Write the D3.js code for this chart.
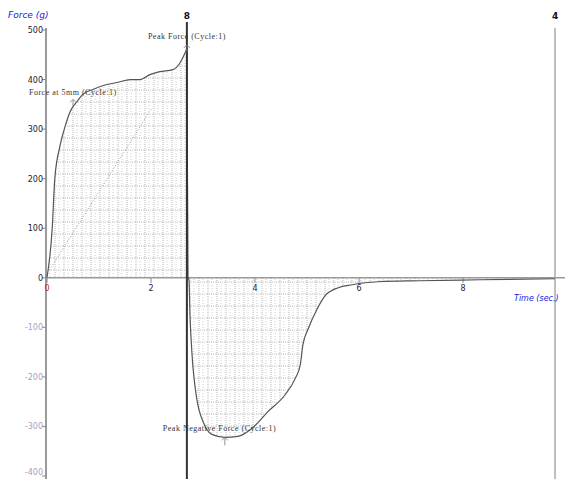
<!DOCTYPE html>
<html><head><meta charset="utf-8">
<script src="https://cdn.jsdelivr.net/npm/d3@7"></script>
<style>html,body{margin:0;padding:0;background:#fff;}svg{display:block;}</style>
</head><body>
<svg id="c" width="565" height="479"></svg>
<script>
// Data (time in sec, force in g)
const xTicks = [0, 2, 4, 6, 8];
const xTickLabels = ["0", "2", "4", "6", "8"];
const yTicks = [500, 400, 300, 200, 100, 0, -100, -200, -300, -400];
const yTickLabels = ["500", "400", "300", "200", "100", "0", "-100", "-200", "-300", "-400"];
const posTime = [0, 0.10, 0.15, 0.25, 0.35, 0.44, 0.58, 0.69, 0.88, 1.15, 1.35, 1.60, 1.79, 1.98, 2.17, 2.42, 2.56, 2.69];
const posForce = [0, 100, 200, 266, 306, 334, 356, 370, 380, 390, 394, 400, 400, 410, 416, 420, 434, 462];
const negTime = [2.71, 2.73, 2.75, 2.79, 2.88, 3.00, 3.17, 3.42, 3.67, 3.94, 4.25, 4.58, 4.77, 4.87, 4.92, 5.02, 5.19, 5.35, 5.60, 5.87, 6.12, 6.37, 7.17, 8.33, 9.77];
const negForce = [0, -4, -76, -156, -244, -290, -316, -322, -320, -304, -270, -236, -204, -176, -136, -104, -64, -36, -20, -14, -10, -8, -6, -4, -2];
const markers = [{t: 2.69, label: "8"}, {t: 9.77, label: "4"}];
const annotations = [
  {t: 0.5, f: 360, text: "Force at 5mm (Cycle:1)", dx: -44, dy: -10},
  {t: 2.69, f: 470, text: "Peak Force (Cycle:1)", dx: -39, dy: -12},
  {t: 3.42, f: 322, neg: true, text: "Peak Negative Force (Cycle:1)", dx: -62, dy: -12}
];
const gradT = [0.05, 2.0];
const gradF = [16, 340];

const svg = d3.select("#c");
const x = d3.scaleLinear().domain([0, 10]).range([47, 567]);
const y = d3.scaleLinear().domain([-400, 500]).range([476, 30]);

// hatch pattern
const defs = svg.append("defs");
const pat = defs.append("pattern").attr("id", "hatch").attr("patternUnits", "userSpaceOnUse")
  .attr("width", 9).attr("height", 12);
pat.append("line").attr("x1", 1).attr("x2", 1).attr("y1", 0).attr("y2", 12)
  .attr("stroke", "#b8b8b8").attr("stroke-width", 1).attr("stroke-dasharray", "1,1");
pat.append("line").attr("x1", 5).attr("x2", 5).attr("y1", 0).attr("y2", 12)
  .attr("stroke", "#cfcfcf").attr("stroke-width", 1).attr("stroke-dasharray", "1,2");
pat.append("line").attr("x1", 0).attr("x2", 9).attr("y1", 6).attr("y2", 6)
  .attr("stroke", "#c4c4c4").attr("stroke-width", 1).attr("stroke-dasharray", "1,1");

const pos = posTime.map((t, i) => [t, posForce[i]]);
const neg = negTime.map((t, i) => [t, negForce[i]]);

const area = d3.area().x(d => x(d[0])).y0(y(0)).y1(d => y(d[1])).curve(d3.curveMonotoneX);
svg.append("path").datum(pos).attr("d", area).attr("fill", "url(#hatch)");
svg.append("path").datum(neg).attr("d", area).attr("fill", "url(#hatch)");

// gradient dotted line
svg.append("line").attr("x1", x(gradT[0])).attr("y1", y(gradF[0])).attr("x2", x(gradT[1])).attr("y2", y(gradF[1]))
  .attr("stroke", "#999").attr("stroke-width", 1).attr("stroke-dasharray", "1,2");

// axes lines
svg.append("line").attr("x1", 46).attr("x2", 46).attr("y1", y(500) - 2).attr("y2", 479)
  .attr("stroke", "#9a9a9a").attr("stroke-width", 2);
svg.append("line").attr("x1", 46).attr("x2", 565).attr("y1", y(0)).attr("y2", y(0))
  .attr("stroke", "#9a9a9a").attr("stroke-width", 1.5);

// y ticks
const yg = svg.append("g");
yTicks.forEach((v, i) => {
  yg.append("line").attr("x1", 42).attr("x2", 46).attr("y1", y(v)).attr("y2", y(v)).attr("stroke", "#888");
  yg.append("text").attr("x", 43).attr("y", Math.min(y(v) + 3, 475)).attr("text-anchor", "end")
    .attr("font-family", "DejaVu Sans").attr("font-size", 8)
    .attr("fill", v >= 0 ? "#223" : "#a8a0c0").text(yTickLabels[i]);
});
// x ticks
const xg = svg.append("g");
xTicks.forEach((v, i) => {
  xg.append("line").attr("x1", x(v)).attr("x2", x(v)).attr("y1", y(0)).attr("y2", y(0) + 5).attr("stroke", "#888");
  xg.append("text").attr("x", x(v)).attr("y", y(0) + 13).attr("text-anchor", "middle")
    .attr("font-family", "DejaVu Sans").attr("font-size", 8)
    .attr("fill", i === 0 ? "#d0204a" : "#223").text(xTickLabels[i]);
});

// markers
markers.forEach((m, i) => {
  svg.append("line").attr("x1", x(m.t)).attr("x2", x(m.t)).attr("y1", i === 0 ? 22 : 28).attr("y2", 479)
    .attr("stroke", i === 0 ? "#333" : "#aaa").attr("stroke-width", i === 0 ? 2 : 1.5);
  svg.append("text").attr("x", x(m.t)).attr("y", 19).attr("text-anchor", "middle")
    .attr("font-family", "DejaVu Sans").attr("font-weight", "bold").attr("font-size", 9)
    .attr("fill", "#111").text(m.label);
});

// curves
const line = d3.line().x(d => x(d[0])).y(d => y(d[1])).curve(d3.curveMonotoneX);
svg.append("path").datum(pos).attr("d", line).attr("fill", "none").attr("stroke", "#555").attr("stroke-width", 1.2);
svg.append("path").datum(neg).attr("d", line).attr("fill", "none").attr("stroke", "#555").attr("stroke-width", 1.2);
svg.append("line").attr("x1", x(posTime[posTime.length - 1])).attr("x2", x(negTime[0]))
  .attr("y1", y(posForce[posForce.length - 1])).attr("y2", y(negForce[0])).attr("stroke", "#333").attr("stroke-width", 1.2);

// annotations
annotations.forEach(a => {
  const fv = a.neg ? -a.f : a.f;
  const px = x(a.t), py = y(fv);
  svg.append("path").attr("d", `M${px},${py + 8}L${px},${py}M${px - 3},${py + 3}L${px},${py}L${px + 3},${py + 3}`)
    .attr("stroke", "#777").attr("fill", "none").attr("stroke-width", 0.8);
  svg.append("text").attr("x", px + a.dx).attr("y", py + a.dy + 6)
    .attr("font-family", "Liberation Serif").attr("font-size", 8).attr("letter-spacing", 0.5)
    .attr("fill", "#333").text(a.text);
});

// axis titles
svg.append("text").attr("x", 8).attr("y", 18).attr("font-family", "DejaVu Sans").attr("font-style", "italic")
  .attr("font-size", 9).attr("fill", "#2020e0").text("Force (g)");
svg.append("text").attr("x", 514).attr("y", 301).attr("font-family", "DejaVu Sans").attr("font-style", "italic")
  .attr("font-size", 8).attr("fill", "#2020e0").text("Time (sec.)");
</script>
</body></html>
